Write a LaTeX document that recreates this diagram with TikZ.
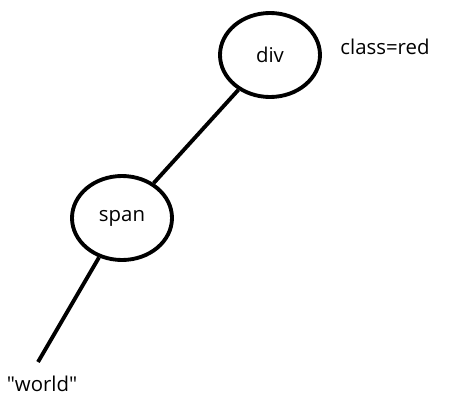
\documentclass[tikz,border=0pt]{standalone}
\usepackage{fontspec}
\setmainfont{Open Sans}
\usepackage{tikz}
\usetikzlibrary{positioning, shapes.geometric}

\begin{document}
\begin{tikzpicture}[font=\fontsize{11.6}{14}\selectfont,
    tagnode/.style={ellipse, draw, line width=2.2pt, minimum width=2cm, minimum height=1.68cm},
    branch/.style={line width=2.2pt}]
  \useasboundingbox (0,0) rectangle (9.36,8.16);
  % element nodes
  \node[tagnode] (div) at (5.40,7.06) {div};
  \node[tagnode] (span) at (2.44,3.80) {span};
  % attribute and text
  \node (attr) at (7.70,7.22) {class=red};
  \coordinate (leaf) at (0.76,0.92);
  \node (text) at (0.84,0.48) {\textquotedbl world\textquotedbl};
  % tree edges
  \draw[branch] (div) -- (span);
  \draw[branch] (span) -- (leaf);
\end{tikzpicture}
\end{document}
